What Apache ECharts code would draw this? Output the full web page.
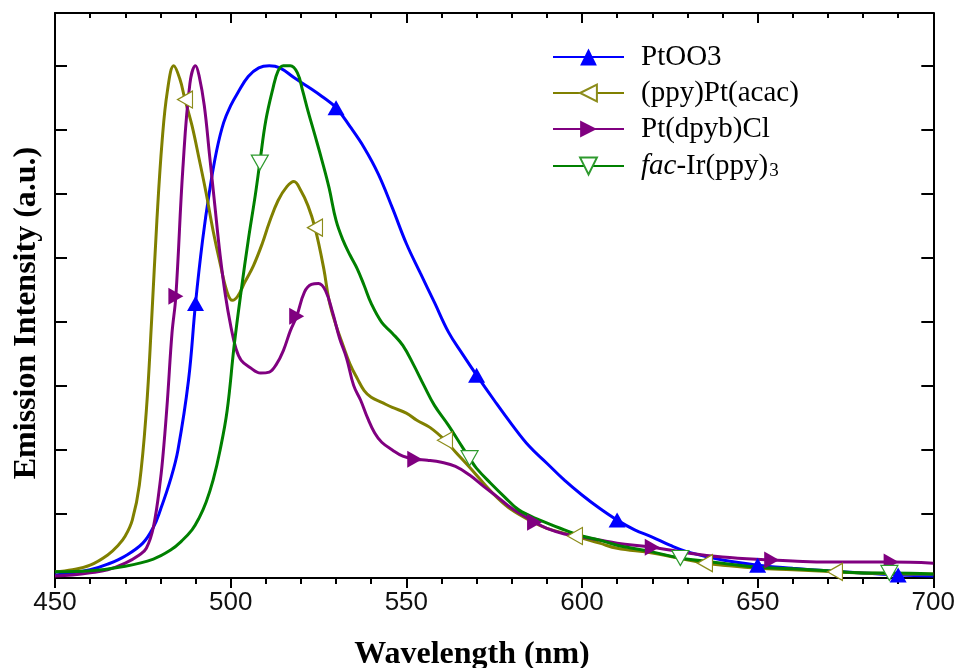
<!DOCTYPE html>
<html>
<head>
<meta charset="utf-8">
<script src="https://cdn.jsdelivr.net/npm/echarts@6/dist/echarts.min.js"></script>
<style>html,body{margin:0;padding:0;background:#fff}#c{width:958px;height:668px}</style>
</head>
<body>
<div id="c"></div>
<script>
// ---- data (wavelength nm, normalized emission intensity) ----
var seriesNames = ['PtOO3', '(ppy)Pt(acac)', 'Pt(dpyb)Cl', 'fac-Ir(ppy)3'];
var xTicks = [450, 500, 550, 600, 650, 700];

var ptoo3 = [[450,0.006],[455,0.010],[460,0.016],[465,0.027],[470,0.043],[475,0.068],[478,0.099],[480,0.133],[483,0.195],[485,0.250],[488,0.386],[490,0.536],[492,0.659],[494,0.756],[496,0.834],[498,0.889],[500,0.922],[502,0.947],[505,0.979],[508,0.996],[511,1.000],[514,0.996],[518,0.977],[522,0.959],[526,0.940],[530,0.918],[534,0.881],[538,0.840],[542,0.789],[546,0.723],[550,0.653],[554,0.595],[558,0.538],[562,0.480],[566,0.437],[570,0.396],[575,0.347],[580,0.300],[585,0.257],[590,0.224],[595,0.191],[600,0.162],[605,0.136],[610,0.113],[615,0.094],[620,0.080],[625,0.064],[630,0.051],[640,0.035],[650,0.025],[660,0.019],[670,0.014],[680,0.010],[690,0.006],[700,0.004]];
var ptoo3Markers = [490, 530, 570, 610, 650, 690];

var ppyPtAcac = [[450,0.012],[455,0.016],[460,0.025],[465,0.045],[468,0.064],[470,0.082],[472,0.113],[474,0.181],[476,0.327],[477.5,0.503],[479,0.698],[480.5,0.854],[482,0.951],[483.8,1.000],[485.5,0.975],[487,0.934],[489,0.883],[491,0.819],[493,0.752],[495,0.678],[497,0.614],[499,0.558],[500.5,0.542],[502,0.550],[504,0.577],[506.5,0.610],[509,0.653],[511,0.694],[513.5,0.737],[516,0.764],[518,0.774],[520,0.756],[522,0.727],[524,0.684],[526.5,0.604],[528,0.542],[530,0.493],[532,0.454],[534,0.417],[536,0.390],[538,0.366],[540,0.353],[543,0.343],[546,0.333],[550,0.322],[553,0.308],[556.7,0.294],[561,0.269],[564,0.246],[568,0.216],[572,0.185],[576,0.156],[580,0.133],[585,0.113],[590,0.097],[598,0.082],[605,0.068],[610,0.058],[620,0.049],[635,0.029],[640,0.025],[650,0.019],[660,0.016],[672,0.012],[680,0.010],[690,0.008],[700,0.008]];
var ppyPtAcacMarkers = [487, 524, 561, 598, 635, 672];

var ptDpybCl = [[450,0.004],[455,0.006],[460,0.010],[465,0.016],[470,0.029],[474,0.045],[476,0.058],[478,0.099],[480,0.191],[481,0.260],[482,0.347],[483.3,0.478],[484.4,0.550],[486.4,0.800],[488.4,0.965],[490,1.000],[491,0.981],[492.5,0.922],[494,0.825],[495.5,0.727],[497,0.630],[498.5,0.552],[500,0.493],[501.5,0.448],[503,0.425],[505.5,0.411],[508.5,0.400],[511,0.402],[513,0.417],[515,0.444],[517,0.483],[518.8,0.511],[521,0.558],[523,0.573],[525,0.575],[527,0.561],[529,0.519],[531,0.468],[533,0.429],[535,0.376],[537,0.347],[539,0.312],[541,0.283],[543,0.265],[546,0.250],[549,0.238],[552.4,0.232],[556,0.230],[560,0.226],[564,0.218],[568,0.201],[572,0.179],[576,0.158],[580,0.136],[586.5,0.109],[590,0.097],[595,0.086],[600,0.080],[605,0.074],[610,0.068],[620,0.060],[630,0.049],[640,0.041],[654,0.035],[660,0.033],[670,0.031],[688,0.031],[700,0.029]];
var ptDpybClMarkers = [484.4, 518.8, 552.4, 586.5, 620, 654, 688];

var facIrPpy3 = [[450,0.012],[460,0.014],[470,0.023],[478,0.037],[483,0.055],[486,0.072],[489,0.094],[491,0.117],[493,0.148],[495,0.191],[497,0.250],[499,0.327],[501,0.454],[503,0.561],[505,0.659],[507,0.747],[508.3,0.811],[510,0.893],[512,0.955],[513.5,0.990],[515,1.000],[517,1.000],[519,0.986],[520.5,0.951],[522,0.912],[524,0.864],[526,0.815],[528,0.762],[530,0.698],[532,0.659],[534,0.630],[536,0.604],[538,0.571],[540,0.536],[543,0.499],[546,0.478],[549,0.454],[552,0.417],[555,0.376],[558,0.337],[562,0.298],[566,0.255],[568,0.234],[570,0.214],[574,0.185],[578,0.158],[582,0.133],[588,0.113],[595,0.094],[600,0.082],[605,0.074],[610,0.064],[620,0.051],[628,0.039],[640,0.029],[650,0.021],[660,0.018],[670,0.014],[680,0.010],[687.5,0.010],[700,0.008]];
var facIrPpy3Markers = [508.3, 568, 628, 687.5];

// ---- build ----
function build(data, markers) {
  return data.map(function (p) {
    return markers.indexOf(p[0]) >= 0 ? { value: p } : { value: p, symbol: 'none' };
  });
}

var chart = echarts.init(document.getElementById('c'), null, { renderer: 'canvas' });

function lineSeries(name, data, markers, color, rotate, fill, border) {
  return {
    name: name, type: 'line', data: build(data, markers),
    smooth: 0.4, showSymbol: true, showAllSymbol: true,
    symbol: 'triangle', symbolSize: [17, 15], symbolRotate: rotate,
    lineStyle: { color: color, width: 3 },
    itemStyle: { color: fill, borderColor: border, borderWidth: fill === '#ffffff' ? 1.2 : 0 },
    emphasis: { disabled: true }, silent: true, z: 3
  };
}

var axisLineStyle = { color: '#000', width: 2 };

var option = {
  animation: false,
  backgroundColor: '#fff',
  grid: { left: 55, right: 23, top: 13, bottom: 90, containLabel: false },
  xAxis: [
    {
      type: 'value', min: xTicks[0], max: xTicks[xTicks.length - 1], interval: 50, position: 'bottom',
      axisLine: { show: true, lineStyle: axisLineStyle, onZero: false },
      axisTick: { show: true, inside: false, length: 10, lineStyle: axisLineStyle },
      minorTick: { show: true, splitNumber: 5, length: 6, lineStyle: axisLineStyle },
      axisLabel: { show: true, fontFamily: 'Liberation Sans', fontSize: 26, color: '#111', margin: 12,
        formatter: function (v) { return xTicks.indexOf(v) >= 0 ? String(v) : ''; } },
      splitLine: { show: false }, minorSplitLine: { show: false }
    },
    {
      type: 'value', min: xTicks[0], max: xTicks[xTicks.length - 1], interval: 50, position: 'top',
      axisLine: { show: true, lineStyle: axisLineStyle, onZero: false },
      axisTick: { show: true, inside: true, length: 10, lineStyle: axisLineStyle },
      minorTick: { show: true, splitNumber: 5, length: 5, lineStyle: axisLineStyle },
      axisLabel: { show: false }, splitLine: { show: false }
    }
  ],
  yAxis: [
    {
      type: 'value', min: 0, max: 1.103, interval: 0.125, position: 'left',
      axisLine: { show: true, lineStyle: axisLineStyle, onZero: false },
      axisTick: { show: true, inside: true, length: 12, lineStyle: axisLineStyle },
      axisLabel: { show: false }, splitLine: { show: false }
    },
    {
      type: 'value', min: 0, max: 1.103, interval: 0.125, position: 'right',
      axisLine: { show: true, lineStyle: axisLineStyle, onZero: false },
      axisTick: { show: true, inside: true, length: 12, lineStyle: axisLineStyle },
      axisLabel: { show: false }, splitLine: { show: false }
    }
  ],
  legend: {
    orient: 'vertical', left: 552, top: 42, padding: 0, itemGap: 6,
    itemWidth: 71, itemHeight: 21, selectedMode: false,
    data: seriesNames,
    textStyle: {
      fontFamily: 'Liberation Serif', fontSize: 29, color: '#000', lineHeight: 30, padding: [0, 0, 0, 12],
      rich: {
        i: { fontFamily: 'Liberation Serif', fontStyle: 'italic', fontSize: 29, color: '#000', lineHeight: 30 },
        n: { fontFamily: 'Liberation Serif', fontSize: 29, color: '#000', lineHeight: 30 },
        s: { fontFamily: 'Liberation Serif', fontSize: 19, color: '#000', lineHeight: 30, verticalAlign: 'bottom', padding: [12, 0, 0, 1] }
      }
    },
    formatter: function (name) {
      if (name === seriesNames[3]) return '{i|fac}{n|-Ir(ppy)}{s|3}';
      return name;
    }
  },
  graphic: [
    { type: 'text', x: 472, y: 655, silent: true,
      style: { text: 'Wavelength (nm)', font: 'bold 32px "Liberation Serif"', fill: '#000', textAlign: 'center', textVerticalAlign: 'middle' } },
    { type: 'text', x: 27, y: 313, rotation: Math.PI / 2, silent: true,
      style: { text: 'Emission Intensity (a.u.)', font: 'bold 32px "Liberation Serif"', fill: '#000', textAlign: 'center', textVerticalAlign: 'middle' } }
  ],
  series: [
    lineSeries(seriesNames[0], ptoo3, ptoo3Markers, '#0000ff', 0, '#0000ff', '#0000ff'),
    lineSeries(seriesNames[1], ppyPtAcac, ppyPtAcacMarkers, '#808000', 90, '#ffffff', '#8c8c1a'),
    lineSeries(seriesNames[2], ptDpybCl, ptDpybClMarkers, '#800080', -90, '#800080', '#800080'),
    lineSeries(seriesNames[3], facIrPpy3, facIrPpy3Markers, '#008000', 180, '#ffffff', '#2e9a2e')
  ]
};
chart.setOption(option);
</script>
</body>
</html>
